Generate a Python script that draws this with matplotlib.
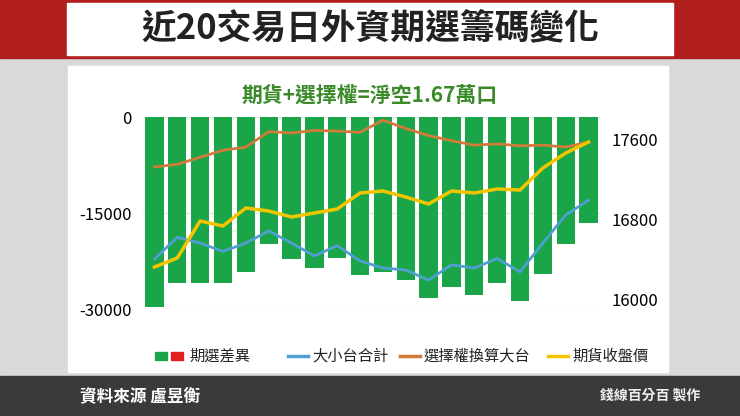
import matplotlib
matplotlib.use("Agg")
import matplotlib.pyplot as plt
from matplotlib.patches import Rectangle
import numpy as np

plt.rcParams['font.family'] = ['Noto Sans CJK TC', 'DejaVu Sans']

days = list(range(1, 21))
diff = [-29700,-26000,-25900,-26000,-24200,-19800,-22200,-23600,-22100,-24700,
        -24200,-25400,-28300,-26500,-27800,-25900,-28700,-24600,-19900,-16500]
small_big = [-22200,-18800,-19700,-21000,-19700,-17800,-19700,-21700,-20100,-22500,
             -23600,-23900,-25500,-23100,-23600,-22100,-24200,-19700,-15300,-13000]
opt_big = [-7800,-7400,-6300,-5200,-4700,-2300,-2500,-2100,-2200,-2400,
           -500,-1800,-2900,-3700,-4400,-4200,-4500,-4400,-4700,-3900]
fut_price = [16330,16420,16790,16740,16920,16890,16830,16870,16910,17070,
             17090,17030,16960,17090,17070,17110,17100,17320,17470,17580]

W, H = 740, 416
fig = plt.figure(figsize=(W/100, H/100), dpi=100)
fig.patch.set_facecolor('#d9d9d9')
def rect(x, y, w, h, c):
    fig.add_artist(Rectangle((x, y), w, h, transform=fig.transFigure, color=c, zorder=-10))
rect(0, 1-58/H, 1, 58/H, '#b01e1e')
rect(0.09, 1-55/H, 0.82, 52/H, 'white')
fig.text(0.5, 1-29/H, '近20交易日外資期選籌碼變化', ha='center', va='center',
         fontsize=25, fontweight='bold', color='#222222')
rect(68/W, 1-372/H, 600/W, 306/H, 'white')
fig.text(0.5, 1-95/H, '期貨+選擇權=淨空1.67萬口', ha='center', va='center',
         fontsize=15, fontweight='bold', color='#3a8a2a')
rect(0, 0, 1, 40/H, '#3a3a3a')
fig.text(80/W, 20/H, '資料來源 盧昱衡', ha='left', va='center', fontsize=12,
         color='white', style='italic', fontweight='bold')
fig.text(600/W, 20/H, '錢線百分百 製作', ha='left', va='center', fontsize=10,
         color='#eeeeee', fontweight='bold')

ax = fig.add_axes([143/W, 1-309/H, (600-143)/W, 192/H])
ax.set_ylim(-30000, 0)
ax.set_xlim(0.5, 20.5)
ax.bar(days, diff, width=0.8, color='#1aa548', zorder=2)
ax.plot(days, small_big, color='#4f9fd0', lw=2, zorder=3)
ax.plot(days, opt_big, color='#d07b3a', lw=2, zorder=3)
ax.set_yticks([0, -15000, -30000])
ax.set_yticklabels(['0', '-15000', '-30000'])
ax.set_xticks([])
for s in ax.spines.values():
    s.set_visible(False)
ax.tick_params(axis='y', length=0, labelsize=12, pad=8)
ax.grid(axis='y', color='#e6e6e6', lw=1, zorder=0)
ax.patch.set_alpha(0)

ax2 = ax.twinx()
ax2.set_ylim(15910, 17830)
ax2.plot(days, fut_price, color='#f2c500', lw=2.5, zorder=4)
ax2.set_yticks([16000, 16800, 17600])
ax2.tick_params(axis='y', length=0, labelsize=12, pad=8)
for s in ax2.spines.values():
    s.set_visible(False)

items = [('期選差異', None), ('大小台合計', '#4f9fd0'), ('選擇權換算大台', '#d07b3a'), ('期貨收盤價', '#f2c500')]
xs = [155, 288, 400, 548]
yl = (416-356)/H
for (lab, c), x in zip(items, xs):
    if c is None:
        rect(x/W, (416-360)/H, 12/W, 8/H, '#1aa548')
        rect((x+16)/W, (416-360)/H, 12/W, 8/H, '#e02020')
        tx = x + 34
    else:
        fig.lines.append(plt.Line2D([x/W, (x+20)/W], [yl]*2, transform=fig.transFigure, color=c, lw=2.5))
        tx = x + 24
    fig.text(tx/W, yl, lab, ha='left', va='center', fontsize=11, color='#222222')

fig.savefig('out.png', dpi=100, facecolor=fig.get_facecolor())
